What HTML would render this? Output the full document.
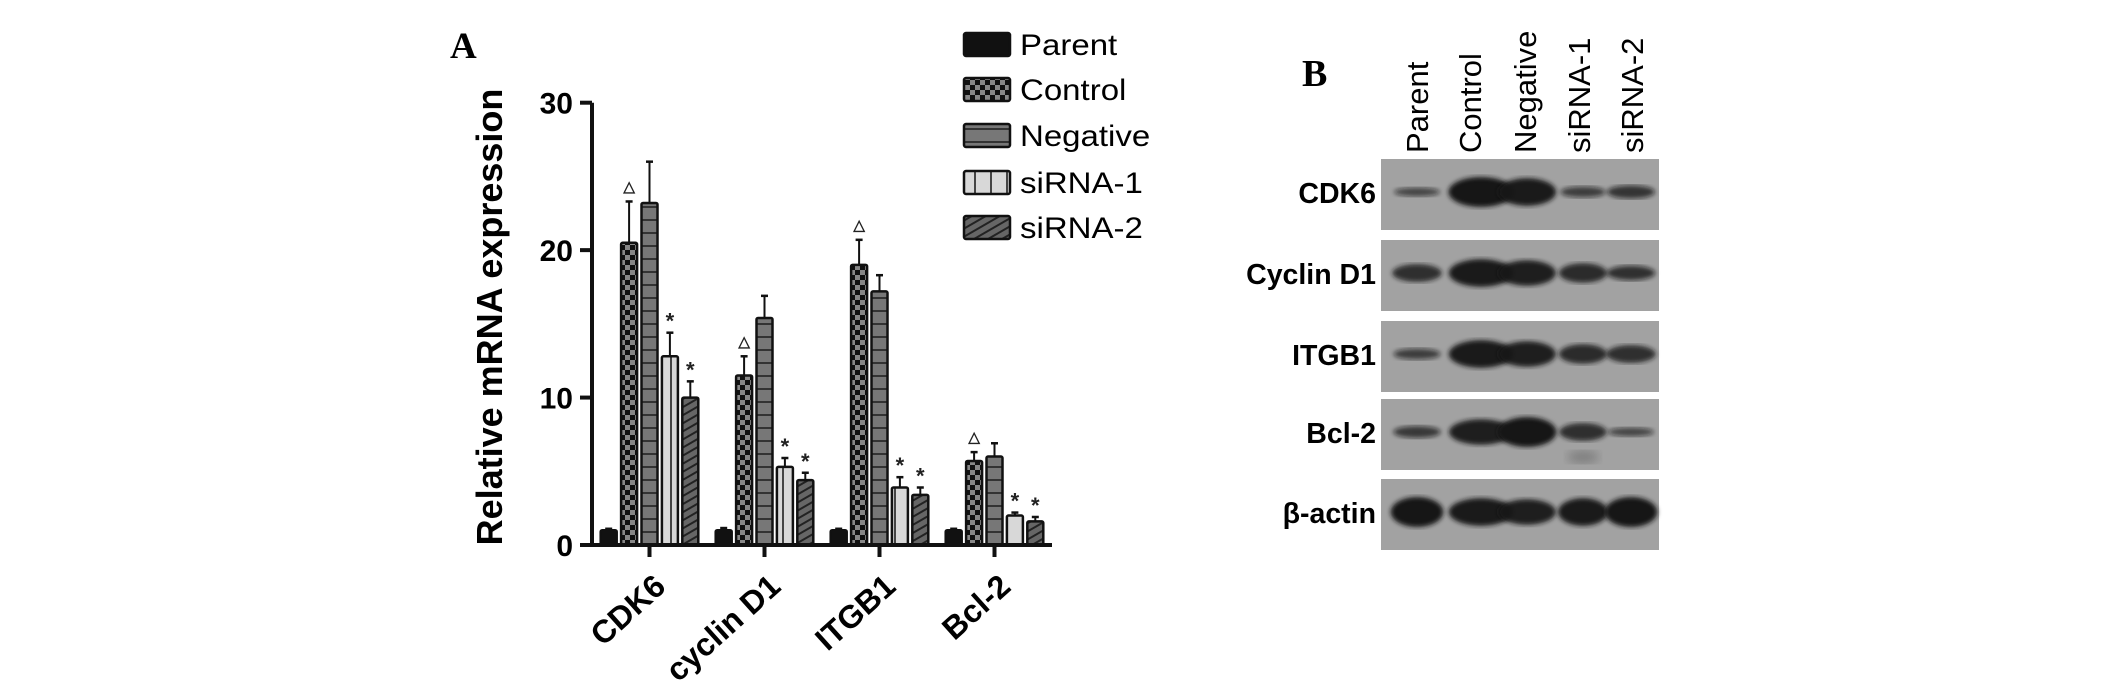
<!DOCTYPE html>
<html><head><meta charset="utf-8"><style>
html,body{margin:0;padding:0;background:#fff;overflow:hidden;}
svg{display:block;font-family:"Liberation Sans",Arial,sans-serif;}
</style></head><body>
<svg id="fig" width="2126" height="686" viewBox="0 0 2126 686">
<defs>
<pattern id="pCtrl" width="10" height="10" patternUnits="userSpaceOnUse"><rect width="10" height="10" fill="#111"/><rect width="5" height="5" fill="#888"/><rect x="5" y="5" width="5" height="5" fill="#888"/></pattern>
<pattern id="pNeg" width="10" height="13" patternUnits="userSpaceOnUse"><rect width="10" height="13" fill="#777"/><rect y="11" width="10" height="2" fill="#333"/></pattern>
<pattern id="pS1" width="16" height="10" patternUnits="userSpaceOnUse"><rect width="16" height="10" fill="#d8d8d8"/><rect x="14" width="2" height="10" fill="#444"/></pattern>
<pattern id="pS2" width="7" height="7" patternUnits="userSpaceOnUse" patternTransform="rotate(-30)"><rect width="7" height="7" fill="#666"/><rect width="7" height="2" fill="#222"/></pattern>
<filter id="blur"><feGaussianBlur stdDeviation="2.5"/></filter>
<filter id="blur2"><feGaussianBlur stdDeviation="5"/></filter>
</defs>
<text x="450" y="58" font-family="Liberation Serif,serif" font-weight="bold" font-size="37">A</text>
<text x="1302" y="86" font-family="Liberation Serif,serif" font-weight="bold" font-size="38">B</text>
<g id="chart"></g>
<g id="legend"></g>
<g id="blot"></g>
</svg>
<script>
const categories = ["CDK6","cyclin D1","ITGB1","Bcl-2"];
const seriesNames = ["Parent","Control","Negative","siRNA-1","siRNA-2"];
const parentVals = [1,1,1,1];
const controlVals = [20.5,11.5,19,5.7];
const negativeVals = [23.2,15.4,17.2,6.0];
const sirna1Vals = [12.8,5.3,3.9,2.0];
const sirna2Vals = [10,4.4,3.4,1.6];
const parentErr = [0.1,0.15,0.1,0.1];
const controlErr = [2.8,1.3,1.7,0.6];
const negativeErr = [2.8,1.5,1.1,0.9];
const sirna1Err = [1.6,0.6,0.7,0.2];
const sirna2Err = [1.1,0.5,0.5,0.3];
const marks = [["","△","","*","*"],["","△","","*","*"],["","△","","*","*"],["","△","","*","*"]];
const yTicks = [0,10,20,30];
const blotRows = ["CDK6","Cyclin D1","ITGB1","Bcl-2","β-actin"];
const bandIntensity = [[0.35,1,0.95,0.45,0.55],[0.7,0.95,0.9,0.75,0.6],[0.45,0.95,0.9,0.75,0.7],[0.5,0.9,1,0.7,0.35],[1,0.95,0.9,0.95,1]];

const NS="http://www.w3.org/2000/svg";
function mk(tag,attrs,parent,txt){const e=document.createElementNS(NS,tag);for(const k in attrs)e.setAttribute(k,attrs[k]);if(txt!==undefined)e.textContent=txt;parent.appendChild(e);return e;}
const fills=["#111","url(#pCtrl)","url(#pNeg)","url(#pS1)","url(#pS2)"];
const vals=[parentVals,controlVals,negativeVals,sirna1Vals,sirna2Vals];
const errs=[parentErr,controlErr,negativeErr,sirna1Err,sirna2Err];
const x0=592,x1=1052,yBase=545,yTop=102.7,yMax=30;
const y=v=>yBase-(v/yMax)*(yBase-yTop);
const groupW=(x1-x0)/categories.length;
const cx=i=>x0+groupW*(i+0.5);
const chart=document.getElementById('chart');
const bw=16,step=20.4;
categories.forEach((c,i)=>{
  vals.forEach((s,j)=>{
    const bx=cx(i)+(j-2)*step-bw/2;
    const top=y(s[i]+errs[j][i]);
    const ex=bx+bw/2;
    let l=mk('line',{x1:ex,x2:ex,y1:y(s[i]),y2:top,stroke:'#111','stroke-width':2},chart);
    
    
    l=mk('line',{x1:ex-3.5,x2:ex+3.5,y1:top,y2:top,stroke:'#111','stroke-width':2.5},chart);
    
    
    const r=mk('rect',{x:bx,y:y(s[i]),width:bw,height:yBase-y(s[i]),fill:fills[j],stroke:'#111','stroke-width':2.5,rx:1.5},chart);
    
    
    if(marks[i][j]){
      const t=mk('text',{x:ex,y:top-(marks[i][j]=='*'?4:10),'text-anchor':'middle','font-size':marks[i][j]=='*'?22:15,'font-weight':'bold',fill:'#222'},chart,marks[i][j]);
      
      
    }
  });
  const tk=mk('line',{x1:cx(i),x2:cx(i),y1:yBase,y2:yBase+12,stroke:'#111','stroke-width':4},chart);
  
  
  const lx=cx(i)+18,ly=yBase+44;
  const t=mk('text',{x:lx,y:ly,'text-anchor':'end','font-size':32,'font-weight':'bold',transform:`rotate(-42 ${lx} ${ly})`},chart,c);
  
  
});
let ax=mk('line',{x1:x0,x2:x0,y1:yTop,y2:yBase+2,stroke:'#111','stroke-width':4},chart);


ax=mk('line',{x1:x0-2,x2:x1,y1:yBase,y2:yBase,stroke:'#111','stroke-width':4},chart);


yTicks.forEach(v=>{
  const l=mk('line',{x1:x0-12,x2:x0,y1:y(v),y2:y(v),stroke:'#111','stroke-width':4},chart);
  
  
  const t=mk('text',{x:x0-19,y:y(v)+11,'text-anchor':'end','font-size':30,'font-weight':'bold'},chart,v);
  
  
});
const yt=mk('text',{x:502,y:317,'text-anchor':'middle','font-size':36,'font-weight':'bold',transform:'rotate(-90 502 317)'},chart,'Relative mRNA expression');



const legend=document.getElementById('legend');
const legY=[44,89,135,182,227];
seriesNames.forEach((n,j)=>{
  const cy=legY[j];
  const r=mk('rect',{x:964,y:cy-11,width:46,height:23,fill:fills[j],stroke:'#111','stroke-width':2.5,rx:2},legend);
  
  
  const t=mk('text',{x:1020,y:cy+11,'font-size':30},legend,n);
  
  
  const w=t.getComputedTextLength();
  t.setAttribute('textLength',w*1.1);
  t.setAttribute('lengthAdjust','spacingAndGlyphs');
});

const blot=document.getElementById('blot');
const laneX=[1417,1481,1527,1583,1631];
const laneLbl=[1428,1481,1536,1590,1643];
const laneW=[50,62,56,48,50];
seriesNames.forEach((n,k)=>{
  const bx=laneLbl[k];
  const t=mk('text',{x:bx,y:153,'font-size':31,transform:`rotate(-90 ${bx} 153)`},blot,n);
  
  
});
const rowTop=[159,240,321,399,479];
blotRows.forEach((n,r)=>{
  const top=rowTop[r];
  const bg=mk('rect',{x:1381,y:top,width:278,height:71,fill:'#a2a2a2'},blot);
  
  
  bandIntensity[r].forEach((a,k)=>{
    const e=mk('ellipse',{cx:laneX[k],cy:top+33,rx:laneW[k]/2*(0.85+0.2*a),ry:3+12*a*a,fill:'#151515','fill-opacity':0.45+0.55*a,filter:'url(#blur)'},blot);
    
    
  });
  const t=mk('text',{x:1376,y:top+44,'text-anchor':'end','font-size':28.5,'font-weight':'bold'},blot,n);
  
  
});
const spot=mk('ellipse',{cx:1583,cy:457,rx:16,ry:6,fill:'#555','fill-opacity':0.5,filter:'url(#blur2)'},blot);


</script>
</body></html>
